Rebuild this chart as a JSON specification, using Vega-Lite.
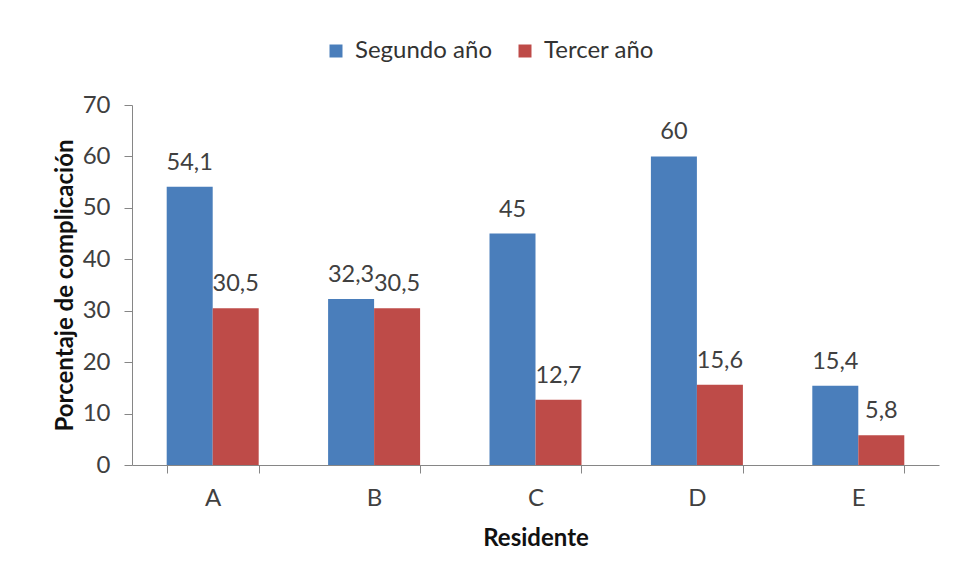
{
  "$schema": "https://vega.github.io/schema/vega-lite/v6.json",
  "width": 807,
  "height": 360,
  "autosize": {"type": "none"},
  "padding": {"left": 132, "top": 105, "right": 16, "bottom": 118},
  "background": "white",
  "config": {
    "view": {"stroke": null},
    "font": "Lato",
    "axis": {"domainColor": "#868686", "tickColor": "#868686", "labelColor": "#404040", "titleColor": "#111111", "grid": false, "labelFont": "Lato", "titleFont": "Lato"}
  },
  "data": {
    "values": [
      {"residente": "A", "serie": "Segundo año", "valor": 54.1, "etiqueta": "54,1"},
      {"residente": "A", "serie": "Tercer año", "valor": 30.5, "etiqueta": "30,5"},
      {"residente": "B", "serie": "Segundo año", "valor": 32.3, "etiqueta": "32,3"},
      {"residente": "B", "serie": "Tercer año", "valor": 30.5, "etiqueta": "30,5"},
      {"residente": "C", "serie": "Segundo año", "valor": 45, "etiqueta": "45"},
      {"residente": "C", "serie": "Tercer año", "valor": 12.7, "etiqueta": "12,7"},
      {"residente": "D", "serie": "Segundo año", "valor": 60, "etiqueta": "60"},
      {"residente": "D", "serie": "Tercer año", "valor": 15.6, "etiqueta": "15,6"},
      {"residente": "E", "serie": "Segundo año", "valor": 15.4, "etiqueta": "15,4"},
      {"residente": "E", "serie": "Tercer año", "valor": 5.8, "etiqueta": "5,8"}
    ]
  },
  "encoding": {
    "x": {
      "field": "residente",
      "type": "nominal",
      "scale": {"paddingInner": 0.43, "paddingOuter": 0.215},
      "axis": {
        "title": "Residente",
        "labelAngle": 0,
        "tickBand": "extent",
        "tickSize": 8,
        "labelPadding": 13,
        "labelFontSize": 24,
        "titleFontSize": 24,
        "titleFontWeight": "bold",
        "titlePadding": 16
      }
    },
    "xOffset": {"field": "serie", "type": "nominal", "sort": ["Segundo año", "Tercer año"]},
    "y": {
      "field": "valor",
      "type": "quantitative",
      "scale": {"domain": [0, 70]},
      "axis": {
        "title": "Porcentaje de complicación",
        "values": [0, 10, 20, 30, 40, 50, 60, 70],
        "tickSize": 8,
        "labelPadding": 14,
        "labelFontSize": 24,
        "titleFontSize": 24,
        "titleFontWeight": "bold",
        "titlePadding": 5
      }
    }
  },
  "layer": [
    {
      "mark": {"type": "bar"},
      "encoding": {
        "color": {
          "field": "serie",
          "type": "nominal",
          "sort": ["Segundo año", "Tercer año"],
          "scale": {"domain": ["Segundo año", "Tercer año"], "range": ["#4A7EBB", "#BE4B48"]},
          "legend": {
            "title": null,
            "orient": "none",
            "direction": "horizontal",
            "legendX": 192,
            "legendY": -66,
            "symbolType": "square",
            "symbolSize": 169,
            "symbolStrokeWidth": 0,
            "labelFontSize": 24,
            "labelColor": "#333333",
            "labelFont": "Lato",
            "columnPadding": 21,
            "labelOffset": 7
          }
        }
      }
    },
    {
      "mark": {"type": "text", "baseline": "alphabetic", "dy": -17, "fontSize": 23.5, "color": "#404040"},
      "encoding": {
        "text": {"field": "etiqueta"}
      }
    }
  ]
}
